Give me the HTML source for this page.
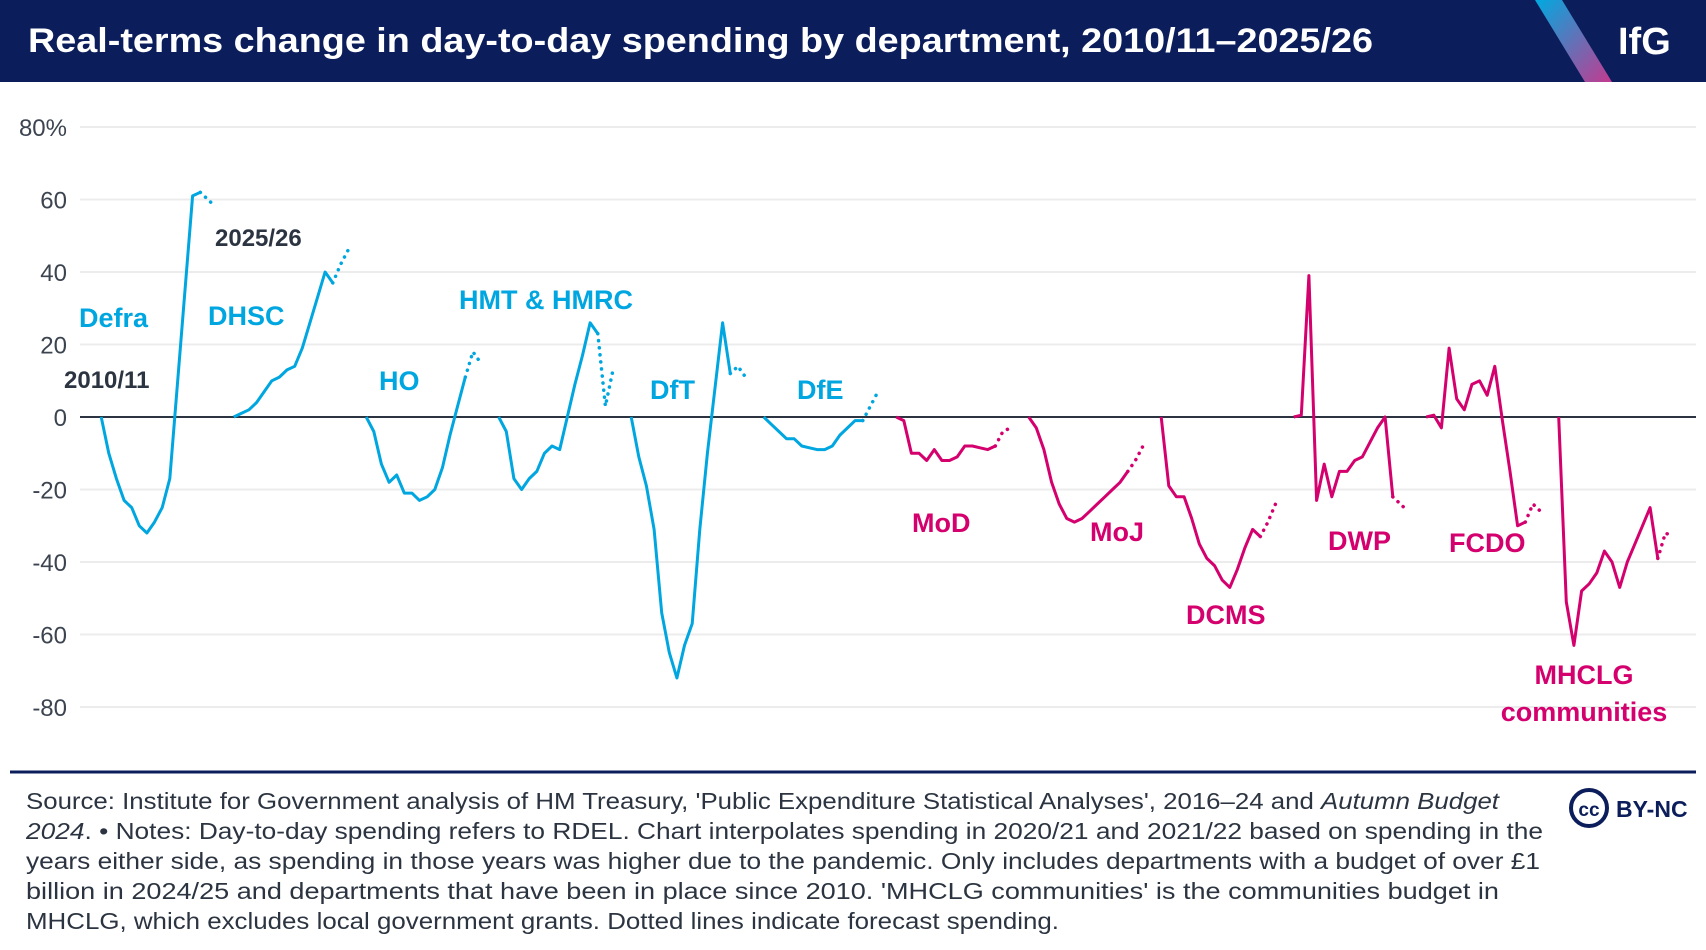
<!DOCTYPE html>
<html><head><meta charset="utf-8">
<style>
html,body{margin:0;padding:0;background:#fff;}
svg{display:block;font-family:"Liberation Sans",sans-serif;}
</style></head>
<body>
<svg id="chart" width="1706" height="950" viewBox="0 0 1706 950">
  <defs>
    <linearGradient id="lg" x1="0" y1="0" x2="1" y2="1">
      <stop offset="0" stop-color="#00a9e0"/><stop offset="1" stop-color="#c43a8f"/>
    </linearGradient>
  </defs>
  <g>
    <rect x="0" y="0" width="1706" height="82" fill="#0b1d5a"/>
    <text x="28" y="52" fill="#fff" font-size="34" font-weight="bold" textLength="1345" lengthAdjust="spacingAndGlyphs">Real-terms change in day-to-day spending by department, 2010/11–2025/26</text>
    <polygon points="1535,0 1562,0 1612,82 1585,82" fill="url(#lg)"/>
    <text x="1618" y="54" fill="#fff" font-size="38" font-weight="bold">IfG</text>
  </g>
  <g id="grid"></g>
  <g id="yaxis"></g>
  <g id="series"></g>
  <g id="labels">
    <text x="64" y="388" font-size="24" font-weight="bold" fill="#2b3440">2010/11</text>
    <text x="215" y="246" font-size="24" font-weight="bold" fill="#2b3440">2025/26</text>
  </g>
  <line x1="10" y1="772" x2="1696" y2="772" stroke="#0b1d5a" stroke-width="3"/>
  <g font-size="23" fill="#2b3440">
    <text x="26" y="809" textLength="1473" lengthAdjust="spacingAndGlyphs">Source: Institute for Government analysis of HM Treasury, 'Public Expenditure Statistical Analyses', 2016–24 and <tspan font-style="italic">Autumn Budget</tspan></text>
    <text x="26" y="839" textLength="1517" lengthAdjust="spacingAndGlyphs"><tspan font-style="italic">2024</tspan>. • Notes: Day-to-day spending refers to RDEL. Chart interpolates spending in 2020/21 and 2021/22 based on spending in the</text>
    <text x="26" y="869" textLength="1514" lengthAdjust="spacingAndGlyphs">years either side, as spending in those years was higher due to the pandemic. Only includes departments with a budget of over £1</text>
    <text x="26" y="899" textLength="1473" lengthAdjust="spacingAndGlyphs">billion in 2024/25 and departments that have been in place since 2010. 'MHCLG communities' is the communities budget in</text>
    <text x="26" y="929" textLength="1033" lengthAdjust="spacingAndGlyphs">MHCLG, which excludes local government grants. Dotted lines indicate forecast spending.</text>
  </g>
  <g>
    <circle cx="1589" cy="808" r="18" fill="none" stroke="#0b1d5a" stroke-width="4"/>
    <text x="1589" y="816" text-anchor="middle" font-size="19" font-weight="bold" fill="#0b1d5a">cc</text>
    <text x="1616" y="817" font-size="23" font-weight="bold" fill="#0b1d5a">BY-NC</text>
  </g>
</svg>
<script>
const yTicks = [80, 60, 40, 20, 0, -20, -40, -60, -80];
const yTickLabels = ["80%", "60", "40", "20", "0", "-20", "-40", "-60", "-80"];
const departments = ["Defra","DHSC","HO","HMT & HMRC","DfT","DfE","MoD","MoJ","DCMS","DWP","FCDO","MHCLG communities"];
const groups = ["blue","blue","blue","blue","blue","blue","pink","pink","pink","pink","pink","pink"];
const defra = [0,-10,-17,-23,-25,-30,-32,-29,-25,-17,9,35,61,62,60,58];
const dhsc = [0,1,2,4,7,10,11,13,14,19,26,33,40,37,42,46];
const ho = [0,-4,-13,-18,-16,-21,-21,-23,-22,-20,-14,-5,3,11,18,15];
const hmt = [0,-4,-17,-20,-17,-15,-10,-8,-9,0,9,17,26,23,3,13];
const dft = [0,-11,-19,-31,-54,-65,-72,-63,-57,-31,-10,8,26,12,14,11];
const dfe = [0,-2,-4,-6,-6,-8,-8.5,-9,-9,-8,-5,-3,-1,-1,3,7];
const mod = [0,-1,-10,-10,-12,-9,-12,-12,-11,-8,-8,-8.5,-9,-8,-4,-3];
const moj = [0,-3,-9,-18,-24,-28,-29,-28,-26,-24,-22,-20,-18,-15,-12,-8];
const dcms = [0,-19,-22,-22,-28,-35,-39,-41,-45,-47,-42,-36,-31,-33,-29,-24];
const dwp = [0,0.5,39,-23,-13,-22,-15,-15,-12,-11,-7,-3,0,-22,-24,-26];
const fcdo = [0,0.5,-3,19,5,2,9,10,6,14,-1,-15,-30,-29,-24,-26];
const mhclg = [0,-51,-63,-48,-46,-43,-37,-40,-47,-40,-35,-30,-25,-39,-32,-33];
const seriesValues = [defra,dhsc,ho,hmt,dft,dfe,mod,moj,dcms,dwp,fcdo,mhclg];
const forecastStart = 13;

const NS = "http://www.w3.org/2000/svg";
const colors = {blue:"#00a6e0", pink:"#d4006e"};
function yScale(v){ return 417 - v * 3.625; }
function xScale(d, i){ return 101.2 + d * 132.5 + i * 7.62; }
function mk(tag, attrs, parent){
  const e = document.createElementNS(NS, tag);
  for (const k in attrs) e.setAttribute(k, attrs[k]);
  parent.appendChild(e); return e;
}
const grid = document.getElementById("grid");
const yaxis = document.getElementById("yaxis");
yTicks.forEach((t, k) => {
  const ln = mk("line", {x1:80, x2:1696, y1:yScale(t), y2:yScale(t), stroke: t===0 ? "#2b3440" : "#ececec", "stroke-width": 2}, grid);
  
  
  const tx = mk("text", {x:67, y:yScale(t)+9, "text-anchor":"end", "font-size":24, fill:"#3c4450"}, yaxis);
  tx.textContent = yTickLabels[k];
  
  
});
const series = document.getElementById("series");
seriesValues.forEach((vals, d) => {
  const col = colors[groups[d]];
  const solid = vals.slice(0, forecastStart + 1).map((v, i) => xScale(d, i).toFixed(1) + "," + yScale(v).toFixed(1)).join(" ");
  const dotted = vals.map((v, i) => [i, v]).filter(p => p[0] >= forecastStart).map(p => xScale(d, p[0]).toFixed(1) + "," + yScale(p[1]).toFixed(1)).join(" ");
  const p1 = mk("polyline", {points: solid, fill:"none", stroke: col, "stroke-width": 3, "stroke-linejoin":"round"}, series);
  
  
  const p2 = mk("polyline", {points: dotted, fill:"none", stroke: col, "stroke-width": 3.5, "stroke-dasharray":"0.1 7", "stroke-linecap":"round"}, series);
  
  
});
const labelPos = [[79,327],[208,325],[379,390],[459,309],[650,399],[797,399],[912,532],[1090,541],[1186,624],[1328,550],[1449,552],[1584,684]];
const labels = document.getElementById("labels");
departments.forEach((name, d) => {
  const col = colors[groups[d]];
  const [x, y] = labelPos[d];
  if (name === "MHCLG communities") {
    const t1 = mk("text", {x:x, y:y, "text-anchor":"middle", "font-size":27, "font-weight":"bold", fill:col}, labels);
    t1.textContent = "MHCLG";
    
    
    const t2 = mk("text", {x:x, y:y+37, "text-anchor":"middle", "font-size":27, "font-weight":"bold", fill:col}, labels);
    t2.textContent = "communities";
    
    
  } else {
    const t = mk("text", {x:x, y:y, "font-size":27, "font-weight":"bold", fill:col}, labels);
    t.textContent = name;
    
    
  }
});
</script>
</body></html>
